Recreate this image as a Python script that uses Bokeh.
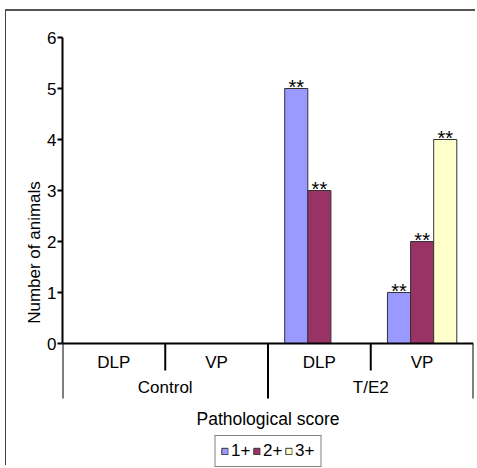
from bokeh.plotting import figure
from bokeh.models import (FactorRange, Range1d, FixedTicker, Legend, LegendItem,
                          ColumnDataSource)
from bokeh.transform import dodge
from bokeh.core.properties import value
from bokeh.embed import file_html
from bokeh.resources import INLINE

# ---- data ----
groups = ["Control", "T/E2"]
sites = ["DLP", "VP"]
score_labels = ["1+", "2+", "3+"]
score_1 = [0, 0, 5, 1]
score_2 = [0, 0, 3, 2]
score_3 = [0, 0, 0, 4]
marks_1 = ["", "", "**", "**"]
marks_2 = ["", "", "**", "**"]
marks_3 = ["", "", "", "**"]
y_ticks = [0, 1, 2, 3, 4, 5, 6]
colors = ["#9999FF", "#993366", "#FFFFCC"]

factors = [(g, s) for g in groups for s in sites]
FONT = "Liberation Sans"

W, H = 470, 456
TOP = 26
PX_PER_UNIT = 51.0
y_max = 6
y_min = y_max - (H - TOP) / PX_PER_UNIT

src = ColumnDataSource(dict(x=factors, s1=score_1, s2=score_2, s3=score_3,
                            m1=marks_1, m2=marks_2, m3=marks_3))

x_range = FactorRange(*factors, factor_padding=0, group_padding=0,
                      subgroup_padding=0, range_padding=0)
p = figure(width=W, height=H, x_range=x_range, y_range=Range1d(y_min, y_max),
           output_backend="svg", toolbar_location=None,
           min_border_left=56, min_border_right=3, min_border_top=TOP,
           min_border_bottom=0)
p.styles = {"margin-top": "9px", "margin-left": "5px",
            "border-top": "2px solid #555555", "border-left": "1px solid #444444"}
p.outline_line_color = None
p.xgrid.visible = False
p.ygrid.visible = False
p.background_fill_color = "white"
p.border_fill_color = "white"

bw = 0.225
series = [("s1", "m1"), ("s2", "m2"), ("s3", "m3")]
renderers = []
for i, (col, mcol) in enumerate(series):
    off = (i - 1) * bw
    r = p.vbar(x=dodge("x", off, range=p.x_range), top=col, width=bw, source=src,
               fill_color=colors[i], line_color="#333333", line_width=1)
    renderers.append(r)
    p.text(x=dodge("x", off, range=p.x_range), y=col, text=mcol, source=src,
           text_font=value(FONT), text_font_size="20px", text_align="center",
           text_baseline="alphabetic", y_offset=-2, text_color="black")

# separators below the category axis (Excel-style table lines)
n = len(factors)
bounds = list(range(n + 1))
depths = [55 / PX_PER_UNIT if b % len(sites) == 0 else 27 / PX_PER_UNIT for b in bounds]
p.segment(x0=bounds, y0=[0] * len(bounds), x1=bounds, y1=[-d for d in depths],
          line_color="black", line_width=2)

# y axis
yax = p.yaxis[0]
yax.bounds = (0, y_max)
yax.ticker = FixedTicker(ticks=y_ticks)
yax.minor_tick_line_color = None
yax.major_tick_in = 0
yax.major_tick_out = 5
yax.major_tick_line_width = 2
yax.axis_line_width = 2
yax.axis_line_color = "black"
yax.major_tick_line_color = "black"
yax.major_label_text_font = FONT
yax.major_label_text_font_size = "17px"
yax.major_label_text_color = "black"
yax.major_label_standoff = 1
yax.axis_label = "Number of animals"
yax.axis_label_text_font = FONT
yax.axis_label_text_font_size = "17px"
yax.axis_label_text_font_style = "normal"
yax.axis_label_text_color = "black"
yax.axis_label_standoff = 0

# x axis, pinned at y = 0
xax = p.xaxis[0]
xax.fixed_location = 0
xax.axis_line_width = 2
xax.axis_line_color = "black"
xax.major_tick_line_color = None
xax.minor_tick_line_color = None
xax.separator_line_color = None
xax.major_label_text_font = FONT
xax.major_label_text_font_size = "17px"
xax.major_label_text_color = "black"
xax.major_label_standoff = 3
xax.group_text_font = FONT
xax.group_text_font_size = "17px"
xax.group_text_font_style = "normal"
xax.group_text_color = "black"
xax.axis_label = "Pathological score"
xax.axis_label_text_font = FONT
xax.axis_label_text_font_size = "17.5px"
xax.axis_label_text_font_style = "normal"
xax.axis_label_text_color = "black"
xax.axis_label_standoff = 9

legend = Legend(items=[LegendItem(label=score_labels[i], renderers=[renderers[i]])
                       for i in range(3)],
                orientation="horizontal", location="bottom_center",
                label_text_font=FONT, label_text_font_size="17px",
                label_text_color="black", glyph_width=8, glyph_height=8,
                label_standoff=3, spacing=1, padding=5, margin=0,
                border_line_color="black", border_line_width=1,
                label_height=16, background_fill_alpha=1.0)
p.add_layout(legend)

open("out.html", "w").write(file_html(p, INLINE))
